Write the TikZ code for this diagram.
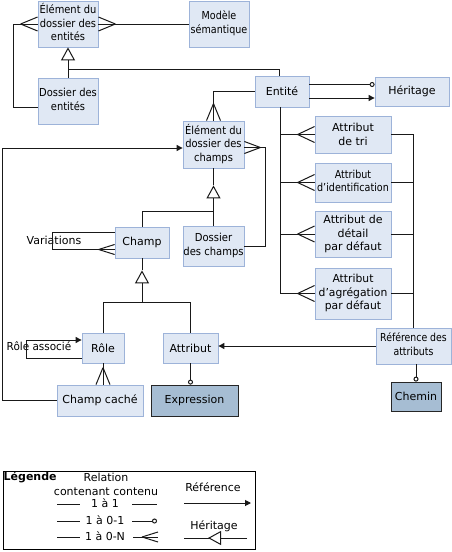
\documentclass[tikz,border=0pt]{standalone}
\usepackage{fontspec}
\usepackage{graphicx}
\setmainfont{DejaVu Sans}
\usetikzlibrary{arrows.meta,calc}
\definecolor{boxfill}{HTML}{E0E8F4}
\definecolor{boxline}{HTML}{9DB3D9}
\definecolor{darkfill}{HTML}{A6BDD3}
\newcommand{\crowfoot}[3]{\draw[conn] ($(#1)+(#2)$) -- ($(#1)+(#3)$) ($(#1)+(#2)$) -- ($(#1)-(#3)$);}
\newcommand{\sq}[2]{\scalebox{#1}[1]{\begin{tabular}{@{}c@{}}#2\end{tabular}}}
\begin{document}
\begin{tikzpicture}[x=1pt,y=-1pt,
 every node/.style={font=\fontsize{11}{13.5}\selectfont, inner sep=0pt, align=center, text=black},
 box/.style={draw=boxline, fill=boxfill, line width=0.8pt},
 dbox/.style={draw=black!85, fill=darkfill, line width=0.8pt},
 conn/.style={line width=1pt, black!90},
 ref/.style={conn, -{Triangle[length=6pt,width=6pt]}},
 circ/.style={conn, -{Circle[fill=white,length=5pt,width=5pt]}},
 inh/.style={conn, -{Triangle[length=13pt,width=14pt,fill=white]}},
]
\useasboundingbox (0,0) rectangle (452,552);
\fill[white] (0,0) rectangle (452,552);

% boxes
\node[box, minimum width=60pt, minimum height=46pt] (ed) at (68,24) {\sq{0.9}{Élément du\\dossier des\\entités}};
\node[box, minimum width=60pt, minimum height=46pt] (ms) at (219,24) {\sq{0.87}{Modèle\\sémantique}};
\node[box, minimum width=60pt, minimum height=46pt] (de) at (68,101) {\sq{0.9}{Dossier des\\entités}};
\node[box, minimum width=54pt, minimum height=31pt] (en) at (282,91.5) {Entité};
\node[box, minimum width=74pt, minimum height=29pt] (he) at (412,91.5) {Héritage};
\node[box, minimum width=61pt, minimum height=47pt] (ec) at (213.5,144.5) {\sq{0.9}{Élément du\\dossier des\\champs}};
\node[box, minimum width=61pt, minimum height=40pt] (dc) at (213.5,246) {\sq{0.91}{Dossier\\des champs}};
\node[box, minimum width=54pt, minimum height=31pt] (ch) at (142,242.5) {Champ};
\node[box, minimum width=42pt, minimum height=30pt] (ro) at (103,348) {Rôle};
\node[box, minimum width=55pt, minimum height=30pt] (at) at (190.5,348) {Attribut};
\node[box, minimum width=86pt, minimum height=31pt] (cc) at (100,400.5) {Champ caché};
\node[dbox, minimum width=87pt, minimum height=31pt] (ex) at (194.5,400.5) {Expression};
\node[box, minimum width=76pt, minimum height=37pt] (a1) at (353,134.5) {Attribut\\de tri};
\node[box, minimum width=76pt, minimum height=39pt] (a2) at (353,182.5) {\sq{0.87}{Attribut\\d'identification}};
\node[box, minimum width=76pt, minimum height=46pt] (a3) at (353,234) {Attribut de\\détail\\par défaut};
\node[box, minimum width=76pt, minimum height=51pt] (a4) at (353,293.5) {\sq{0.98}{Attribut\\d'agrégation\\par défaut}};
\node[box, minimum width=75pt, minimum height=36pt] (ra) at (413.5,346) {\sq{0.85}{Référence des\\attributs}};
\node[dbox, minimum width=50pt, minimum height=29pt] (chm) at (416,396.5) {Chemin};

% labels
\node (var) at (54,240) {Variations};
\node (ras) at (39,348) {\sq{0.95}{Rôle associé}};

% Élément du dossier des entités
\draw[conn] (ed.east) -- (ms.west);
\crowfoot{ed.east}{17,0}{0,7}
\draw[conn] (ed.west) -- ++(-24,0) |- ([yshift=-6pt]de.west);
\crowfoot{ed.west}{-17,0}{0,7}
\draw[conn] (de.north) -- ++(0,-8) coordinate (j1) -| ([xshift=-3pt]en.north);
\draw[inh] (j1) -- (ed.south);

% Entité
\draw[circ] ([yshift=7pt]en.east) -- ([yshift=7pt]he.west);
\draw[ref] ([yshift=-6.5pt]en.east) -- ([yshift=-6.5pt]he.west);
\draw[conn] (en.west) -| (ec.north);
\crowfoot{ec.north}{0,-17}{7,0}
\draw[conn] ([xshift=-2pt]en.south) |- (a4.west);
\draw[conn] ([xshift=-2pt]en.south) |- (a1.west);
\draw[conn] ([xshift=-2pt]en.south) |- (a2.west);
\draw[conn] ([xshift=-2pt]en.south) |- (a3.west);
\crowfoot{a1.west}{-17,0}{0,8}
\crowfoot{a2.west}{-17,0}{0,8}
\crowfoot{a3.west}{-17,0}{0,8}
\crowfoot{a4.west}{-17,0}{0,8}

% attribute boxes to Référence des attributs
\draw[conn] (a1.east) -| (ra.north);
\draw[conn] (a2.east) -- (a2.east -| ra.north);
\draw[conn] (a3.east) -- (a3.east -| ra.north);
\draw[conn] (a4.east) -- (a4.east -| ra.north);
\draw[ref] (ra.west) -- (ra.west -| at.east);
\draw[circ] (chm.north |- ra.south) -- (chm.north);

% Élément du dossier des champs
\coordinate (ecE) at ([yshift=-3pt]ec.east);
\draw[conn] (ecE) -- ++(21,0) |- (dc.east);
\crowfoot{ecE}{16,0}{0,6}
\draw[conn] (ec.south) -- ++(0,17) coordinate (t2);
\draw[conn] (dc.north) -- ++(0,-14) coordinate (j2) -| (ch.north);
\draw[inh] (j2) -- (t2);

% Champ
\coordinate (chV) at ([yshift=-7pt]ch.west);
\draw[conn] ([yshift=10pt]ch.west) -- ++(-62,0) |- (chV);
\crowfoot{chV}{-16,0}{0,5}
\draw[conn] (ch.south) -- ++(0,12) coordinate (t3);
\coordinate (j3) at ($(ch.south)+(0,44)$);
\draw[conn] (ro.north) |- (j3) -| (at.north);
\draw[inh] (j3) -- (t3);

% Rôle
\draw[ref] ([yshift=-10pt]ro.west) -- ++(-55,0) |- ([yshift=8pt]ro.west);
\coordinate (ccN) at (ro.south |- cc.north);
\draw[conn] (ro.south) -- (ccN);
\crowfoot{ccN}{0,-17}{7,0}
\draw[ref] (cc.west) -- ++(-54,0) |- ([yshift=-3.5pt]ec.west);

% Attribut
\draw[circ] (at.south) -- (at.south |- ex.north);

% legend
\node[draw=black, line width=1pt, fill=white, minimum width=252pt, minimum height=78pt] (lg) at (129,510) {};
\node[anchor=west, font=\bfseries\fontsize{11}{13.5}\selectfont] (lgt) at (3.5,477) {Légende};
\node (lrel) at (106,477) {Relation};
\node (lcc) at (106,492) {contenant contenu};
\node (l11) at (105,503) {1 à 1};
\node (l101) at (105,520) {1 à 0-1};
\node (l10n) at (105,536) {1 à 0-N};
\node (lref) at (213,487) {Référence};
\node (lher) at (214,526) {Héritage};
\coordinate (s1a) at (57,504); \coordinate (s1b) at (80,504);
\coordinate (s1c) at (132,504); \coordinate (s1d) at (157,504);
\draw[conn] (s1a) -- (s1b); \draw[conn] (s1c) -- (s1d);
\coordinate (s2a) at (57,521); \coordinate (s2b) at (80,521);
\coordinate (s2c) at (132,521); \coordinate (s2d) at (157,521);
\draw[conn] (s2a) -- (s2b); \draw[circ] (s2c) -- (s2d);
\coordinate (s3a) at (57,537); \coordinate (s3b) at (80,537);
\coordinate (s3c) at (133,537); \coordinate (s3d) at (158,537);
\draw[conn] (s3a) -- (s3b); \draw[conn] (s3c) -- (s3d);
\crowfoot{s3d}{-16,0}{0,5}
\coordinate (r1) at (184,503); \coordinate (r2) at (251,503);
\draw[ref] (r1) -- (r2);
\coordinate (h1) at (184,538); \coordinate (h2) at (247,538); \coordinate (hm) at (208,538);
\draw[conn] (h1) -- (h2);
\draw[inh] (h2) -- (hm);
\end{tikzpicture}
\end{document}
